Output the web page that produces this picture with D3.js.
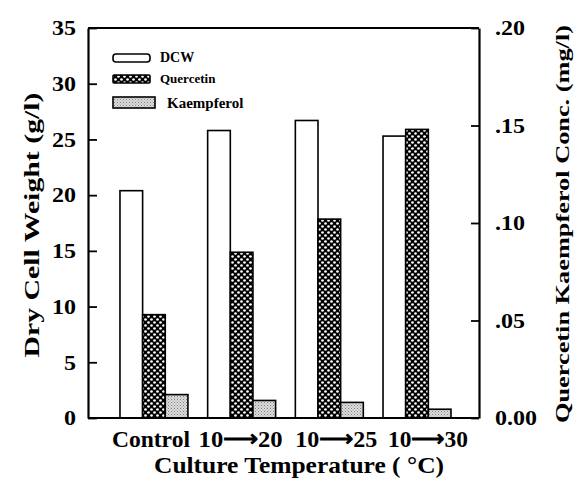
<!DOCTYPE html>
<html>
<head>
<meta charset="utf-8">
<script src="https://cdn.jsdelivr.net/npm/d3@7"></script>
<style>
  body { margin: 0; background: #fff; }
  svg { display: block; }
  text { font-family: "Liberation Serif", "Times New Roman", serif; font-weight: bold; fill: #000; }
</style>
</head>
<body>
<svg id="chart" width="574" height="481"></svg>
<script>
// chart values
var categories = ["Control", "10\u27f620", "10\u27f625", "10\u27f630"];
var series = ["DCW", "Quercetin", "Kaempferol"];
var dcw = [20.4, 25.8, 26.7, 25.3];            // g/l, left axis
var quercetin = [0.053, 0.085, 0.102, 0.148];   // mg/l, right axis
var kaempferol = [0.012, 0.009, 0.008, 0.0045]; // mg/l, right axis
var leftTicks = [0, 5, 10, 15, 20, 25, 30, 35];
var rightTicks = [0, 0.05, 0.10, 0.15, 0.20];

var margin = {left: 88, right: 95, top: 28, bottom: 63};
var width = 574, height = 481;

var svg = d3.select("#chart");

// fill patterns
var defs = svg.append("defs");
var dots = defs.append("pattern")
	.attr("id", "dots")
	.attr("patternUnits", "userSpaceOnUse")
	.attr("width", 6)
	.attr("height", 6);
dots.append("rect").attr("width", 6).attr("height", 6).attr("fill", "#000");
dots.append("circle").attr("cx", 1.5).attr("cy", 1.5).attr("r", 1.35).attr("fill", "#fff");
dots.append("circle").attr("cx", 4.5).attr("cy", 4.5).attr("r", 1.35).attr("fill", "#fff");

var stipple = defs.append("pattern")
	.attr("id", "stipple")
	.attr("patternUnits", "userSpaceOnUse")
	.attr("width", 3)
	.attr("height", 3);
stipple.append("rect").attr("width", 3).attr("height", 3).attr("fill", "#dcdcdc");
stipple.append("rect").attr("x", 0).attr("y", 0).attr("width", 1).attr("height", 1).attr("fill", "#808080");
stipple.append("rect").attr("x", 1.5).attr("y", 1.5).attr("width", 1).attr("height", 1).attr("fill", "#9a9a9a");

var fills = {DCW: "#fff", Quercetin: "url(#dots)", Kaempferol: "url(#stipple)"};

// scales
var x0 = d3.scaleBand()
	.domain(categories)
	.range([margin.left, width - margin.right])
	.paddingInner(0.225)
	.paddingOuter(0.342)
	.align(0.533);
var x1 = d3.scaleBand()
	.domain(series)
	.range([0, x0.bandwidth()]);
var yLeft = d3.scaleLinear()
	.domain([0, 35])
	.range([height - margin.bottom, margin.top]);
var yRight = d3.scaleLinear()
	.domain([0, 0.20])
	.range([height - margin.bottom, margin.top]);

// build rows for bars
var rows = [];
categories.forEach(function(c, i){
	rows.push({cat: c, key: "DCW", v: dcw[i], y: yLeft});
	rows.push({cat: c, key: "Quercetin", v: quercetin[i], y: yRight});
	rows.push({cat: c, key: "Kaempferol", v: kaempferol[i], y: yRight});
});

svg.append("g")
	.attr("class", "bars")
	.selectAll("rect")
	.data(rows)
	.join("rect")
	.attr("x", d => x0(d.cat) + x1(d.key))
	.attr("width", x1.bandwidth())
	.attr("y", d => d.y(d.v))
	.attr("height", d => d.y(0) - d.y(d.v))
	.attr("fill", d => fills[d.key])
	.attr("stroke", "#000")
	.attr("stroke-width", 1.6);

// left axis
var axL = svg.append("g")
	.attr("transform", "translate(" + margin.left + ",0)")
	.call(d3.axisLeft(yLeft).tickValues(leftTicks).tickSizeInner(-9).tickSizeOuter(0).tickPadding(12)
		.tickFormat(d3.format("d")));
// right axis
var axR = svg.append("g")
	.attr("transform", "translate(" + (width - margin.right) + ",0)")
	.call(d3.axisRight(yRight).tickValues(rightTicks).tickSizeInner(-8).tickSizeOuter(0).tickPadding(16)
		.tickFormat(d => d === 0 ? "0.00" : d3.format(".2f")(d).replace(/^0/, "")));

[axL, axR].forEach(function(ax){
	ax.select(".domain").attr("stroke-width", 2.2);
	ax.selectAll(".tick line").attr("stroke-width", 1.8);
	ax.selectAll(".tick text")
		.attr("font-size", 20)
		.attr("font-family", "Liberation Serif, serif")
		.attr("font-weight", "bold")
		.attr("transform", "scale(1.2,1)")
		.attr("dy", "0.34em");
});
// scaling the labels horizontally moves them, so put them back
axL.selectAll(".tick text").attr("x", -12 / 1.2).attr("text-anchor", "end");
axR.selectAll(".tick text").attr("x", 16 / 1.2).attr("text-anchor", "start");

// top and bottom frame lines
svg.append("line")
	.attr("x1", margin.left).attr("x2", width - margin.right)
	.attr("y1", margin.top).attr("y2", margin.top)
	.attr("stroke", "#000").attr("stroke-width", 2.2);
svg.append("line")
	.attr("x1", margin.left).attr("x2", width - margin.right)
	.attr("y1", height - margin.bottom).attr("y2", height - margin.bottom)
	.attr("stroke", "#000").attr("stroke-width", 2.2);

// category labels (slightly off-centre in the original)
var labelWidth = [78, 84, 82, 80];
var labelShift = [-3, -1, 7, 11];
svg.append("g")
	.selectAll("text")
	.data(categories)
	.join("text")
	.attr("x", (d, i) => x0(d) + x0.bandwidth() / 2 + labelShift[i])
	.attr("y", height - margin.bottom + 29)
	.attr("text-anchor", "middle")
	.attr("font-size", 24)
	.attr("textLength", (d, i) => labelWidth[i])
	.attr("lengthAdjust", "spacingAndGlyphs")
	.text(d => d);

// axis titles
svg.append("text")
	.attr("x", 299)
	.attr("y", height - 8)
	.attr("text-anchor", "middle")
	.attr("font-size", 24)
	.attr("textLength", 290)
	.attr("lengthAdjust", "spacingAndGlyphs")
	.text("Culture  Temperature ( \u00b0C)");

svg.append("text")
	.attr("transform", "translate(39," + (yLeft(17.5) + 2) + ") rotate(-90)")
	.attr("text-anchor", "middle")
	.attr("font-size", 22)
	.attr("textLength", 265)
	.attr("lengthAdjust", "spacingAndGlyphs")
	.text("Dry  Cell  Weight (g/l)");

svg.append("text")
	.attr("transform", "translate(569," + (yRight(0.1) + 1) + ") rotate(-90)")
	.attr("text-anchor", "middle")
	.attr("font-size", 19)
	.attr("textLength", 398)
	.attr("lengthAdjust", "spacingAndGlyphs")
	.text("Quercetin  Kaempferol Conc. (mg/l)");

// legend
var legend = svg.append("g").attr("class", "legend");
var legendRows = [
	{key: "DCW", y: 54, h: 8, w: 37, rx: 3, tx: 160, size: 14},
	{key: "Quercetin", y: 75, h: 8, w: 37, rx: 1, tx: 160, size: 13},
	{key: "Kaempferol", y: 97, h: 11, w: 42, rx: 0, tx: 167, size: 15}
];
legendRows.forEach(function(r){
	legend.append("rect")
		.attr("x", 113).attr("y", r.y)
		.attr("width", r.w).attr("height", r.h)
		.attr("rx", r.rx)
		.attr("fill", fills[r.key])
		.attr("stroke", "#000")
		.attr("stroke-width", 1.6);
	legend.append("text")
		.attr("x", r.tx)
		.attr("y", r.y + r.h)
		.attr("font-size", r.size)
		.text(r.key);
});
</script>
</body>
</html>
